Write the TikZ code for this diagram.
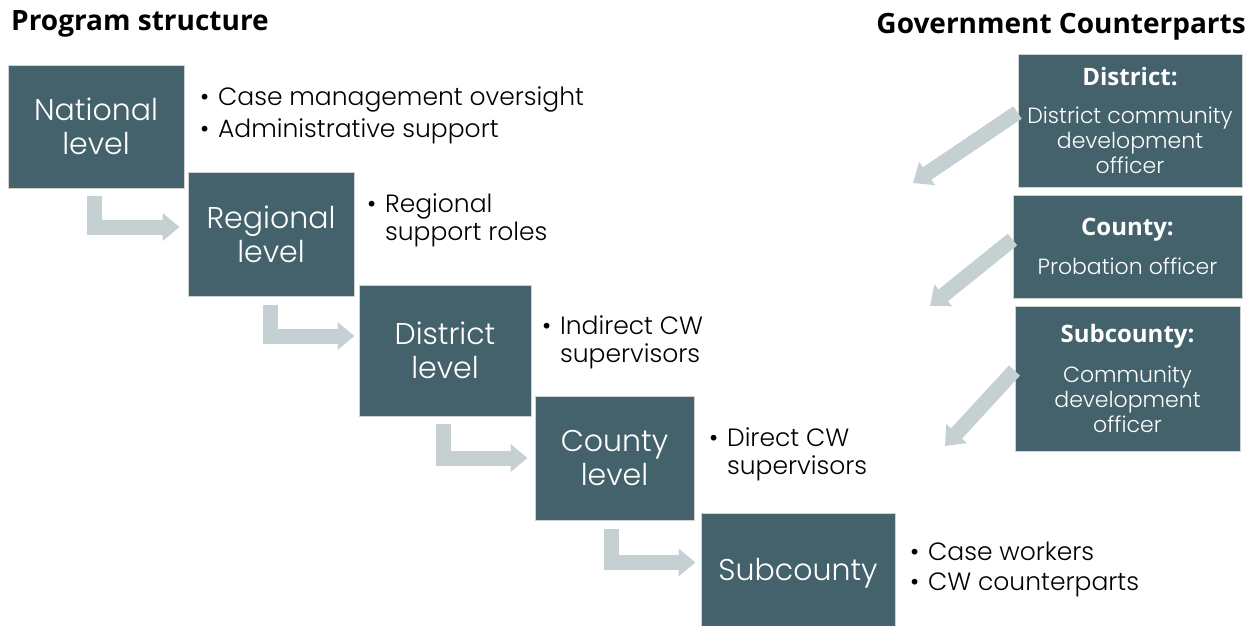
\documentclass[tikz,border=0pt]{standalone}
\usepackage{fontspec}
\setmainfont{Poppins}[UprightFont={* Light}]
\newfontfamily\headfont{Open Sans}
\usepackage{tikz}
\usetikzlibrary{arrows.meta}
\usetikzlibrary{positioning}
\definecolor{slate}{HTML}{44626B}
\definecolor{arrowgray}{HTML}{C5D0D3}
\tikzstyle{level}=[draw=black!18,fill=slate,text=white,line width=1pt,align=center,inner sep=2pt,font=\fontsize{30}{34}\selectfont]
\tikzstyle{counterpart}=[level,font=\fontsize{22}{25}\selectfont]
\tikzstyle{bullets}=[anchor=west,align=left,inner sep=0pt,font=\fontsize{25}{28}\selectfont]
\tikzstyle{stepdown}=[draw=arrowgray,line width=15pt,line join=miter,-{Triangle[length=17pt,width=27pt]}]
\tikzstyle{heading}=[inner sep=0pt,font=\headfont\bfseries\fontsize{28}{30}\selectfont]
\newcommand\bul{\textbullet\hspace{0.35em}}
\newcommand\hd[1]{{\headfont\bfseries\fontsize{24}{26}\selectfont #1}}

\begin{document}
\begin{tikzpicture}[x=1pt,y=-1pt]
\useasboundingbox (0,0) rectangle (1250,625);

% headings
\node [heading,anchor=west] (prog) at (11,24) {Program structure};
\node [heading,anchor=east] (gov) at (1246,27) {Government Counterparts};

% program levels
\node [level,minimum width=176pt,minimum height=123pt] (nat) at (96,126.5) {National\\level};
\node [level,minimum width=166pt,minimum height=124pt] (reg) at (271,234) {Regional\\level};
\node [level,minimum width=172pt,minimum height=131pt] (dis) at (445,350.5) {District\\level};
\node [level,minimum width=159pt,minimum height=124pt] (cou) at (614.5,458) {County\\level};
\node [level,minimum width=194pt,minimum height=124pt,text depth=12pt] (sub) at (798,575) {Subcounty};

% roles
\node [bullets] (natr1) at (200,99) {\bul Case management oversight};
\node [bullets] (natr2) at (200,131) {\bul Administrative support};
\node [bullets] (regr) at (367,220) {\bul Regional\\\phantom{\bul}support roles};
\node [bullets] (disr) at (542,342) {\bul Indirect CW\\\phantom{\bul}supervisors};
\node [bullets] (cour) at (709,454) {\bul Direct CW\\\phantom{\bul}supervisors};
\node [bullets] (subr1) at (910,551) {\bul Case workers};
\node [bullets] (subr2) at (910,585) {\bul CW counterparts};

% step arrows
\draw [stepdown,shorten <=7pt,shorten >=8pt] ([xshift=-1.5pt]nat.south) |- ([yshift=7pt]reg.west);
\draw [stepdown,shorten <=8pt,shorten >=4pt] ([xshift=-1pt]reg.south) |- ([yshift=14.5pt]dis.west);
\draw [stepdown,shorten <=7pt,shorten >=7pt] ([xshift=-1.5pt]dis.south) |- (cou.west);
\draw [stepdown,shorten <=8pt,shorten >=5pt] ([xshift=-3pt]cou.south) |- ([yshift=12.5pt]sub.west);

% government counterparts
\node [counterpart,minimum width=224pt,minimum height=133pt] (gdis) at (1130,120.5)
  {\hd{District:}\\[13pt]District community\\development\\officer};
\node [counterpart,minimum width=229pt,minimum height=103pt] (gcou) at (1127.5,246.5)
  {\hd{County:}\\[14pt]Probation officer};
\node [counterpart,minimum width=225pt,minimum height=145pt] (gsub) at (1127.5,378.5)
  {\hd{Subcounty:}\\[15pt]Community\\development\\officer};

\coordinate (gdisend) at (913,183);
\coordinate (gcouend) at (930,306);
\coordinate (gsubend) at (945,446);
\draw [stepdown] ([yshift=8pt]gdis.west) -- (gdisend);
\draw [stepdown] ([yshift=7pt]gcou.west) -- (gcouend);
\draw [stepdown] ([yshift=8pt]gsub.west) -- (gsubend);

\end{tikzpicture}
\end{document}
